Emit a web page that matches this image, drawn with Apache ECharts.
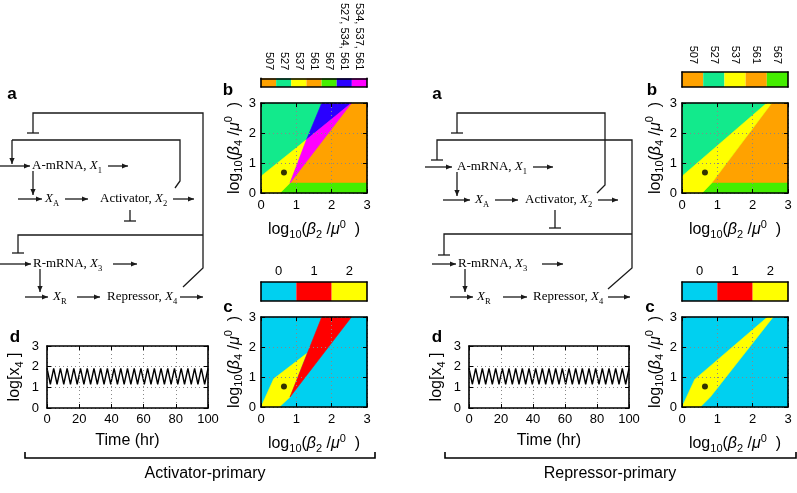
<!DOCTYPE html>
<html><head><meta charset="utf-8">
<script src="https://cdn.jsdelivr.net/npm/echarts@6/dist/echarts.min.js"></script>
<style>html,body{margin:0;padding:0;background:#fff}#c{width:797px;height:493px}</style>
</head><body><div id="c"></div><script>
// ---------------- data ----------------
const cbB_left = ['507','527','537','561','567','527, 534, 561','534, 537, 561'];
const cbB_right = ['507','527','537','561','567'];
const cbC = ['0','1','2'];
// region polygons: [log10(beta2/mu0), log10(beta4/mu0)]
const full = [[0,0],[3,0],[3,3],[0,3]];
const bL_561 = [[0.82,0.33],[2.56,3],[3,3],[3,0.33]];
const bL_567 = [[0.54,0],[3,0],[3,0.33],[0.82,0.33]];
const bL_537 = [[0,0],[0.54,0],[0.82,0.33],[1.29,1.78],[0,0.56]];
const bL_blue = [[1.29,1.78],[1.72,3],[2.56,3]];
const bL_mag = [[0.82,0.33],[1.29,1.78],[2.56,3]];
const cL_2 = [[0,0],[0.52,0],[0.82,0.33],[1.29,1.78],[0.36,0.94]];
const cL_1 = [[0.82,0.33],[1.72,3],[2.56,3]];
const bR_567 = [[0.57,0],[3,0],[3,0.33],[0.84,0.33]];
const bR_561 = [[0.84,0.33],[2.54,3],[3,3],[3,0.33]];
const bR_537 = [[0,0],[0.57,0],[0.84,0.33],[2.54,3],[2.4,3],[0,0.56]];
const cR_2 = [[0,0],[0.52,0],[0.8,0.33],[2.58,3],[2.42,3],[0.36,0.92]];
const dotPoint = [[0.65,0.68]];
// time series (hr, log[x4])
const timeHr = [0,2.08,4.17,6.25,8.33,10.42,12.5,14.58,16.67,18.75,20.83,22.92,25,27.08,29.17,31.25,33.33,35.42,37.5,39.58,41.67,43.75,45.83,47.92,50,52.08,54.17,56.25,58.33,60.42,62.5,64.58,66.67,68.75,70.83,72.92,75,77.08,79.17,81.25,83.33,85.42,87.5,89.58,91.67,93.75,95.83,97.92,100];
const logX4_act = [1.93,1.15,1.92,1.15,1.92,1.15,1.92,1.15,1.92,1.15,1.92,1.15,1.92,1.15,1.92,1.15,1.92,1.15,1.92,1.15,1.92,1.15,1.92,1.15,1.92,1.15,1.92,1.15,1.92,1.15,1.92,1.15,1.92,1.15,1.92,1.15,1.92,1.15,1.92,1.15,1.92,1.15,1.92,1.15,1.92,1.15,1.92,1.15,1.92];
const logX4_rep = [1.93,1.15,1.92,1.15,1.92,1.15,1.92,1.15,1.92,1.15,1.92,1.15,1.92,1.15,1.92,1.15,1.92,1.15,1.92,1.15,1.92,1.15,1.92,1.15,1.92,1.15,1.92,1.15,1.92,1.15,1.92,1.15,1.92,1.15,1.92,1.15,1.92,1.15,1.92,1.15,1.92,1.15,1.92,1.15,1.92,1.15,1.92,1.15,1.92];

// ---------------- styles ----------------
const SANS = '"Liberation Sans", Arial, sans-serif';
const SERIF = '"Liberation Serif", "Times New Roman", serif';
const COL = {o:'#FFA200', g527:'#12EA8C', y:'#FFFF00', g567:'#44EE00', b:'#2A00FF', m:'#FF00FF', cyan:'#00D0F0', r:'#FF0000'};
const cbColorsBL = [COL.o, COL.g527, COL.y, COL.o, COL.g567, COL.b, COL.m];
const cbColorsBR = [COL.o, COL.g527, COL.y, COL.o, COL.g567];
const cbColorsC = [COL.cyan, COL.r, COL.y];

const nameRich = {
  a:{fontFamily:SANS,fontSize:16,color:'#000',lineHeight:21},
  g:{fontFamily:SANS,fontSize:16,color:'#000',fontStyle:'italic',lineHeight:21},
  s:{fontFamily:SANS,fontSize:11,color:'#000',verticalAlign:'bottom',lineHeight:21},
  p:{fontFamily:SANS,fontSize:11,color:'#000',verticalAlign:'top',lineHeight:21}
};
const XNAME = '{a|log}{s|10}{a|(}{g|β}{s|2}{a| /}{g|μ}{p|0}{a|  )}';
const YNAME = '{a|log}{s|10}{a|(}{g|β}{s|4}{a| /}{g|μ}{p|0}{a|  )}';
const DNAME = '{a|log[x}{s|4}{a| ]}';

const grids=[], xAxis=[], yAxis=[], series=[];
const lineStyleAx = () => ({show:true,onZero:false,lineStyle:{color:'#000',width:1.6}});
const tickIn = () => ({show:true,inside:true,length:4,lineStyle:{color:'#000',width:1}});
const split = () => ({show:true,lineStyle:{color:'#888',type:[1,3],width:1}});

function plotPanel(box, xr, yr, o){
  const gi = grids.length; grids.push(Object.assign({containLabel:false}, box));
  const xi = xAxis.length, yi = yAxis.length;
  xAxis.push({gridIndex:gi,type:'value',position:'bottom',min:xr[0],max:xr[1],interval:xr[2],z:5,
    axisLine:lineStyleAx(),axisTick:tickIn(),splitLine:split(),
    axisLabel:{color:'#000',fontFamily:SANS,fontSize:13,margin:o.xm},
    name:o.xname,nameLocation:'middle',nameGap:o.xgap,nameTextStyle:{rich:nameRich}});
  xAxis.push({gridIndex:gi,type:'value',position:'top',min:xr[0],max:xr[1],interval:xr[2],z:5,
    axisLine:lineStyleAx(),axisTick:tickIn(),splitLine:{show:false},axisLabel:{show:false}});
  yAxis.push({gridIndex:gi,type:'value',position:'left',min:yr[0],max:yr[1],interval:yr[2],z:5,
    axisLine:lineStyleAx(),axisTick:tickIn(),splitLine:split(),
    axisLabel:{color:'#000',fontFamily:SANS,fontSize:13,margin:o.ym},
    name:o.yname,nameLocation:'middle',nameGap:o.ygap,nameRotate:90,nameTextStyle:{rich:nameRich}});
  yAxis.push({gridIndex:gi,type:'value',position:'right',min:yr[0],max:yr[1],interval:yr[2],z:5,
    axisLine:lineStyleAx(),axisTick:tickIn(),splitLine:{show:false},axisLabel:{show:false}});
  return {xi, yi};
}
function poly(ax, pts, color){
  series.push({type:'custom',xAxisIndex:ax.xi,yAxisIndex:ax.yi,data:pts,encode:{x:0,y:1},silent:true,animation:false,
    renderItem:(params, api)=>{
      if(params.dataIndex!==0) return null;
      return {type:'polygon',shape:{points:pts.map(p=>api.coord(p))},style:{fill:color,stroke:color,lineWidth:0.6}};
    }});
}
function dot(ax){
  series.push({type:'scatter',xAxisIndex:ax.xi,yAxisIndex:ax.yi,data:dotPoint,symbolSize:6,itemStyle:{color:'#000'},z:4,silent:true,animation:false});
}
function colorbar(box, labels, colors, rotate, fs, margin){
  const gi = grids.length; grids.push(Object.assign({containLabel:false}, box));
  const xi = xAxis.length, yi = yAxis.length;
  xAxis.push({gridIndex:gi,type:'category',data:labels,position:'top',z:5,axisLine:lineStyleAx(),axisTick:{show:false},
    splitLine:{show:false},axisLabel:{interval:0,rotate:rotate,fontSize:fs,color:'#000',fontFamily:SANS,margin:margin}});
  xAxis.push({gridIndex:gi,type:'category',data:labels,position:'bottom',z:5,axisLine:lineStyleAx(),axisTick:{show:false},
    splitLine:{show:false},axisLabel:{show:false}});
  yAxis.push({gridIndex:gi,type:'value',min:0,max:1,position:'left',z:5,axisLine:lineStyleAx(),axisTick:{show:false},splitLine:{show:false},axisLabel:{show:false}});
  yAxis.push({gridIndex:gi,type:'value',min:0,max:1,position:'right',z:5,axisLine:lineStyleAx(),axisTick:{show:false},splitLine:{show:false},axisLabel:{show:false}});
  series.push({type:'bar',xAxisIndex:xi,yAxisIndex:yi,barCategoryGap:'0%',silent:true,animation:false,
    data:labels.map((l,i)=>({value:1,itemStyle:{color:colors[i]}}))});
}

const regOpt = {xm:6, ym:5, xname:XNAME, xgap:26, yname:YNAME, ygap:14};
// Left (Activator-primary)
const bL = plotPanel({left:261,top:103,width:106,height:90},[0,3,1],[0,3,1],regOpt);
poly(bL, full, COL.g527); poly(bL, bL_561, COL.o); poly(bL, bL_567, COL.g567); poly(bL, bL_537, COL.y);
poly(bL, bL_blue, COL.b); poly(bL, bL_mag, COL.m); dot(bL);
const cL = plotPanel({left:261,top:317,width:106,height:90},[0,3,1],[0,3,1],regOpt);
poly(cL, full, COL.cyan); poly(cL, cL_2, COL.y); poly(cL, cL_1, COL.r); dot(cL);
// Right (Repressor-primary)
const bR = plotPanel({left:682,top:103,width:106,height:90},[0,3,1],[0,3,1],regOpt);
poly(bR, full, COL.g527); poly(bR, bR_561, COL.o); poly(bR, bR_567, COL.g567); poly(bR, bR_537, COL.y); dot(bR);
const cR = plotPanel({left:682,top:317,width:106,height:90},[0,3,1],[0,3,1],regOpt);
poly(cR, full, COL.cyan); poly(cR, cR_2, COL.y); dot(cR);
// d panels
const dOpt = {xm:5, ym:8, xname:'{a|Time (hr)}', xgap:22, yname:DNAME, ygap:22};
const dL = plotPanel({left:47,top:346,width:161,height:62},[0,100,20],[0,3,1],dOpt);
series.push({type:'line',xAxisIndex:dL.xi,yAxisIndex:dL.yi,data:timeHr.map((t,i)=>[t,logX4_act[i]]),symbol:'none',lineStyle:{color:'#000',width:1.4},animation:false,silent:true});
const dR = plotPanel({left:469,top:346,width:160,height:62},[0,100,20],[0,3,1],dOpt);
series.push({type:'line',xAxisIndex:dR.xi,yAxisIndex:dR.yi,data:timeHr.map((t,i)=>[t,logX4_rep[i]]),symbol:'none',lineStyle:{color:'#000',width:1.4},animation:false,silent:true});
// colorbars
colorbar({left:261,top:72,width:106,height:15}, cbB_left, cbColorsBL, 90, 11, 8);
colorbar({left:682,top:72,width:106,height:15}, cbB_right, cbColorsBR, 90, 11, 8);
colorbar({left:261,top:282,width:106,height:19}, cbC, cbColorsC, 0, 13, 4);
colorbar({left:682,top:282,width:106,height:19}, cbC, cbColorsC, 0, 13, 4);

// ---------------- diagram graphics ----------------
const G = [];
const STROKE = '#1a1a1a';
function pl(points){ G.push({type:'polyline',shape:{points},style:{stroke:STROKE,lineWidth:1.3,fill:null},z:10}); }
function arrow(x1,y1,x2,y2){
  pl([[x1,y1],[x2,y2]]);
  const a = Math.atan2(y2-y1,x2-x1), L=6, W=2.6;
  const bx = x2-L*Math.cos(a), by = y2-L*Math.sin(a);
  G.push({type:'polygon',shape:{points:[[x2,y2],[bx+W*Math.sin(a),by-W*Math.cos(a)],[bx-W*Math.sin(a),by+W*Math.cos(a)]]},style:{fill:STROKE},z:10});
}
function tbar(x,y){ pl([[x-6,y],[x+6,y]]); }
const dRich = {
  n:{fontFamily:SERIF,fontSize:13,fill:'#000',lineHeight:18},
  i:{fontFamily:SERIF,fontSize:13,fill:'#000',fontStyle:'italic',lineHeight:18},
  s:{fontFamily:SERIF,fontSize:8.5,fill:'#000',verticalAlign:'bottom',lineHeight:18}
};
function txt(x,y,t){ G.push({type:'text',x,y,z:10,style:{text:t,rich:dRich,verticalAlign:'middle',align:'left'}}); }
function letter(x,y,t){ G.push({type:'text',x,y,z:10,style:{text:t,fontFamily:SANS,fontSize:17,fontWeight:'bold',fill:'#000',align:'center',verticalAlign:'middle'}}); }
function title(x,y,t){ G.push({type:'text',x,y,z:10,style:{text:t,fontFamily:SANS,fontSize:16,fill:'#000',align:'center',verticalAlign:'middle'}}); }

// left diagram
txt(32,166,'{n|A-mRNA, }{i|X}{s|1}');
txt(45,199,'{i|X}{s|A}');
txt(100,199,'{n|Activator, }{i|X}{s|2}');
txt(33,264,'{n|R-mRNA, }{i|X}{s|3}');
txt(53,297,'{i|X}{s|R}');
txt(107,297,'{n|Repressor, }{i|X}{s|4}');
arrow(0,166,30,166); arrow(108,166,128,166);
arrow(33,171,33,195);
arrow(18,199,42,199); arrow(65,199,88,199); arrow(173,199,194,199);
arrow(0,264,31,264); arrow(113,264,137,264);
arrow(40,269,40,292);
arrow(25,297,48,297); arrow(77,297,100,297); arrow(180,297,203,297);
pl([[183,287],[203,268],[203,113],[33,113],[33,133]]); tbar(33,133);
pl([[18,253],[18,235],[203,235]]); tbar(18,253);
pl([[175,188],[180,181],[180,140],[12,140]]); arrow(12,140,12,164);
pl([[130,210],[130,221]]); tbar(130,221);
letter(12,94,'a'); letter(228,90,'b'); letter(228,307,'c'); letter(15,337,'d');

// right diagram
txt(457,167,'{n|A-mRNA, }{i|X}{s|1}');
txt(475,200,'{i|X}{s|A}');
txt(525,200,'{n|Activator, }{i|X}{s|2}');
txt(458,264,'{n|R-mRNA, }{i|X}{s|3}');
txt(477,297,'{i|X}{s|R}');
txt(533,297,'{n|Repressor, }{i|X}{s|4}');
arrow(425,167,452,167); arrow(533,167,553,167);
arrow(457,172,457,196);
arrow(443,200,470,200); arrow(495,200,518,200); arrow(598,200,618,200);
arrow(432,264,456,264); arrow(542,264,563,264);
arrow(465,269,465,292);
arrow(450,297,473,297); arrow(503,297,527,297); arrow(608,297,630,297);
pl([[597,193],[605,185],[605,113],[457,113],[457,133]]); tbar(457,133);
pl([[608,289],[632,268],[632,140],[437,140],[437,160]]); tbar(437,160);
pl([[444,255],[444,234],[632,234]]); tbar(444,255);
pl([[555,210],[555,228]]); tbar(555,228);
letter(437,94,'a'); letter(652,90,'b'); letter(650,307,'c'); letter(437,337,'d');

// brackets + titles
G.push({type:'polyline',shape:{points:[[25,452],[25,458],[375,458],[375,452]]},style:{stroke:'#000',lineWidth:1.6,fill:null},z:10});
G.push({type:'polyline',shape:{points:[[445,452],[445,458],[796,458],[796,452]]},style:{stroke:'#000',lineWidth:1.6,fill:null},z:10});
title(205,474,'Activator-primary');
title(610,474,'Repressor-primary');

const chart = echarts.init(document.getElementById('c'), null, {renderer:'canvas', width:797, height:493});
chart.setOption({animation:false, backgroundColor:'#fff', grid:grids, xAxis, yAxis, series, graphic:{elements:G}});
</script></body></html>
